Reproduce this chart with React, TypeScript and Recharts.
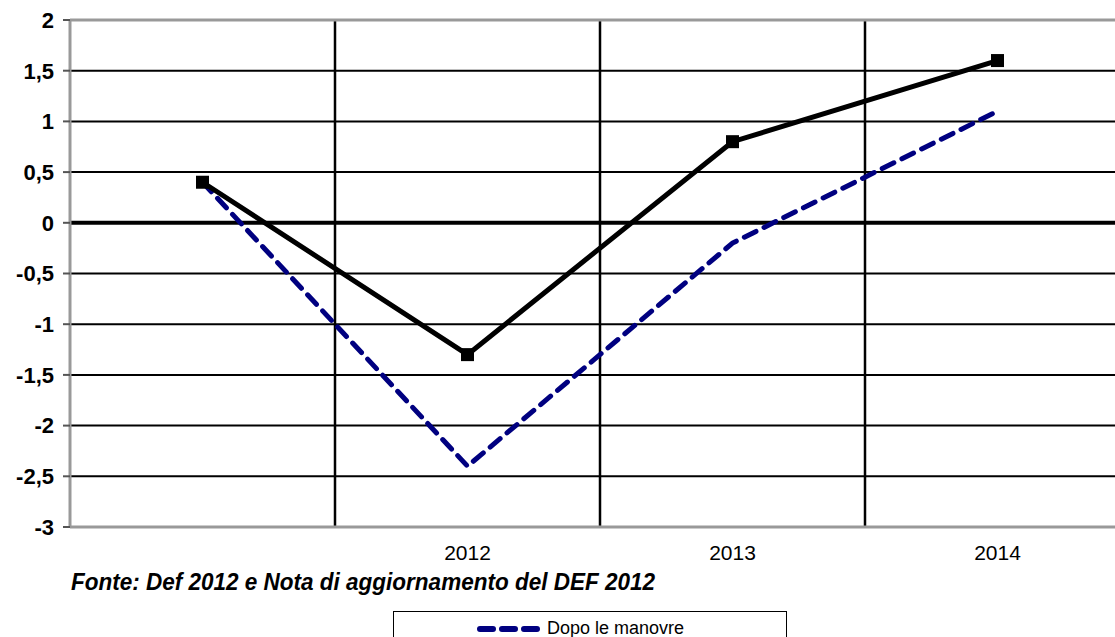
import React from "react";
import {
  LineChart,
  Line,
  XAxis,
  YAxis,
  CartesianGrid,
  ReferenceLine,
} from "recharts";

// categories (first year label is not printed in the original)
const categories = ["", "2012", "2013", "2014"];
const primaValues = [0.4, -1.3, 0.8, 1.6];
const dopoValues = [0.4, -2.4, -0.2, 1.1];
const yTicks = [-3, -2.5, -2, -1.5, -1, -0.5, 0, 0.5, 1, 1.5, 2];
const xTicks = [0.5, 1.5, 2.5, 3.5];
const bandEdges = [1, 2, 3];

const data = categories.map((c, i) => ({
  x: i + 0.5,
  label: c,
  prima: primaValues[i],
  dopo: dopoValues[i],
}));

const FONT = '"Liberation Sans", Arial, sans-serif';

const SquareDot = (props: any) => {
  const { cx, cy, index } = props;
  if (cx == null || cy == null) return null;
  return <rect key={`sq-${index}`} x={cx - 6.5} y={cy - 6.5} width={13} height={13} fill="#000" />;
};

const LegendBox = () => (
  <div
    style={{
      position: "absolute",
      left: 393,
      top: 611,
      width: 394,
      height: 40,
      boxSizing: "border-box",
      border: "1px solid #000",
      background: "#fff",
      fontFamily: FONT,
    }}
  >
    <svg width={70} height={20} style={{ position: "absolute", left: 82, top: 7 }}>
      <line
        x1={4}
        y1={10}
        x2={62}
        y2={10}
        stroke="#000080"
        strokeWidth={6}
        strokeDasharray="13 9"
        strokeLinecap="round"
      />
    </svg>
    <span style={{ position: "absolute", left: 153, top: 6, fontSize: 18, color: "#000" }}>
      Dopo le manovre
    </span>
  </div>
);

export default function App() {
  return (
    <div
      style={{
        position: "fixed",
        left: 0,
        top: 0,
        width: 1115,
        height: 637,
        overflow: "hidden",
        background: "#fff",
      }}
    >
      <LineChart
        width={1130}
        height={637}
        data={data}
        margin={{ top: 20, right: 0, bottom: 80, left: 0 }}
        style={{ fontFamily: FONT }}
      >
        <CartesianGrid vertical={false} stroke="#000" strokeWidth={2} />
        <XAxis
          type="number"
          dataKey="x"
          domain={[0, 4]}
          ticks={xTicks}
          interval={0}
          tickFormatter={(v: number) => categories[Math.floor(v)]}
          tickLine={false}
          axisLine={{ stroke: "#999", strokeWidth: 3 }}
          tick={{ fill: "#000", fontSize: 21 }}
          tickMargin={12}
          height={30}
        />
        <YAxis
          type="number"
          domain={[-3, 2]}
          ticks={yTicks}
          interval={0}
          width={70}
          tickFormatter={(v: number) => String(v).replace(".", ",")}
          tick={{ fill: "#000", fontSize: 22, fontWeight: "bold" }}
          tickLine={{ stroke: "#555", strokeWidth: 2 }}
          tickSize={7}
          tickMargin={9}
          axisLine={{ stroke: "#999", strokeWidth: 3 }}
        />
        {bandEdges.map((e) => (
          <ReferenceLine key={e} x={e} stroke="#000" strokeWidth={2.5} />
        ))}
        <ReferenceLine y={2} stroke="#999" strokeWidth={3} />
        <ReferenceLine y={0} stroke="#000" strokeWidth={4} />
        <Line
          type="linear"
          dataKey="dopo"
          name="Dopo le manovre"
          stroke="#000080"
          strokeWidth={5}
          strokeDasharray="13 9"
          strokeLinecap="round"
          dot={false}
          isAnimationActive={false}
        />
        <Line
          type="linear"
          dataKey="prima"
          name="Prima delle manovre"
          stroke="#000"
          strokeWidth={5}
          dot={SquareDot}
          activeDot={false}
          isAnimationActive={false}
        />
      </LineChart>
      <svg
        width={1115}
        height={30}
        style={{ position: "absolute", left: 0, top: 568 }}
      >
        <text
          x={71}
          y={22}
          fontFamily={FONT}
          fontSize={23}
          fontWeight="bold"
          fontStyle="italic"
          fill="#000"
          textLength={584}
          lengthAdjust="spacingAndGlyphs"
        >
          Fonte: Def 2012 e Nota di aggiornamento del DEF 2012
        </text>
      </svg>
      <LegendBox />
    </div>
  );
}
